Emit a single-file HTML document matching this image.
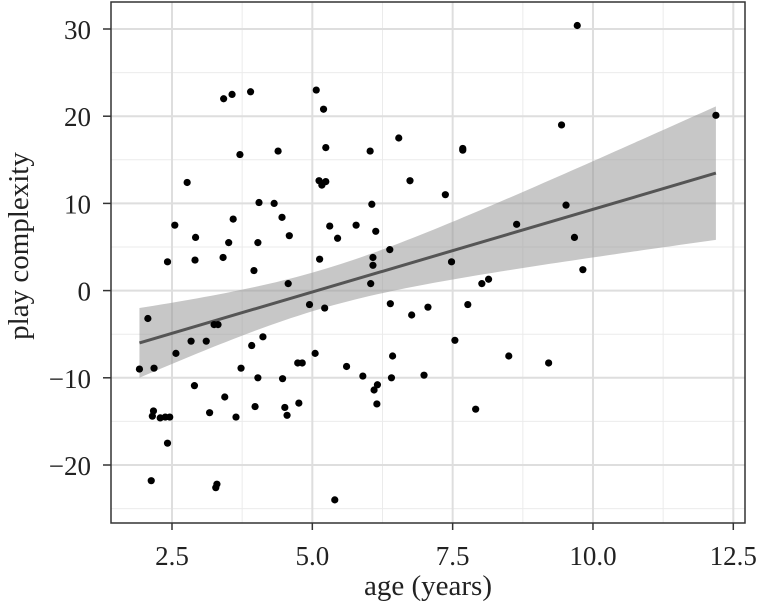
<!DOCTYPE html>
<html><head><meta charset="utf-8"><style>
body{margin:0;background:#fff;}
text{font-family:"Liberation Serif",serif;}
</style></head><body>
<svg id="c" width="758" height="603" xmlns="http://www.w3.org/2000/svg"></svg>
<script>
const ages=[1.92,2.07,2.18,2.13,2.15,2.17,2.29,2.38,2.42,2.42,2.46,2.55,2.57,2.77,2.84,2.90,2.91,2.92,3.11,3.17,3.25,3.28,3.30,3.32,3.42,3.44,3.41,3.51,3.57,3.59,3.64,3.71,3.73,3.90,3.92,3.96,3.98,4.03,4.03,4.05,4.12,4.32,4.39,4.46,4.47,4.51,4.55,4.57,4.59,4.74,4.76,4.82,4.95,5.05,5.07,5.12,5.13,5.17,5.20,5.22,5.24,5.24,5.31,5.45,5.61,5.40,5.78,5.90,6.03,6.04,6.06,6.08,6.08,6.10,6.13,6.15,6.16,6.38,6.39,6.41,6.43,6.54,6.74,6.77,6.99,7.06,7.37,7.48,7.54,7.68,7.68,7.77,7.91,8.02,8.14,8.50,8.64,9.21,9.44,9.52,9.67,9.72,9.82,12.19];
const play=[-9.0,-3.2,-8.9,-21.8,-14.4,-13.8,-14.6,-14.5,3.3,-17.5,-14.5,7.5,-7.2,12.4,-5.8,-10.9,3.5,6.1,-5.8,-14.0,-3.9,-22.6,-22.2,-3.9,22.0,-12.2,3.8,5.5,22.5,8.2,-14.5,15.6,-8.9,22.8,-6.3,2.3,-13.3,5.5,-10.0,10.1,-5.3,10.0,16.0,8.4,-10.1,-13.4,-14.3,0.8,6.3,-8.3,-12.9,-8.3,-1.6,-7.2,23.0,12.6,3.6,12.1,20.8,-2.0,16.4,12.5,7.4,6.0,-8.7,-24.0,7.5,-9.8,16.0,0.8,9.9,3.8,2.9,-11.4,6.8,-13.0,-10.8,4.7,-1.5,-10.0,-7.5,17.5,12.6,-2.8,-9.7,-1.9,11.0,3.3,-5.7,16.3,16.1,-1.6,-13.6,0.8,1.3,-7.5,7.6,-8.3,19.0,9.8,6.1,30.4,2.4,20.1];
const xTicks=[2.5,5.0,7.5,10.0,12.5];
const yTicks=[-20,-10,0,10,20,30];
const NS="http://www.w3.org/2000/svg";
const svg=document.getElementById('c');
const L=111,R=745,T=2,B=523;
const X=v=>172+(v-2.5)*56.13;
const Y=v=>290.6-v*8.72;
function mk(t,a){const e=document.createElementNS(NS,t);for(const k in a)e.setAttribute(k,a[k]);svg.appendChild(e);return e;}
const bg=mk('rect',{x:L,y:T,width:R-L,height:B-T,fill:'#fff'});


for(let v=1.25;v<=13;v+=2.5){if(X(v)>L&&X(v)<R){const g=mk('line',{x1:X(v),x2:X(v),y1:T,y2:B,stroke:'#ebebeb','stroke-width':1});}}
for(let v=-25;v<=35;v+=10){if(Y(v)>T&&Y(v)<B){const g=mk('line',{x1:L,x2:R,y1:Y(v),y2:Y(v),stroke:'#ebebeb','stroke-width':1});}}
xTicks.forEach(v=>{const g=mk('line',{x1:X(v),x2:X(v),y1:T,y2:B,stroke:'#dedede','stroke-width':2});
const tk=mk('line',{x1:X(v),x2:X(v),y1:B,y2:B+7,stroke:'#333','stroke-width':1.5});
const t=mk('text',{x:X(v),y:565,'text-anchor':'middle','font-size':27,fill:'#222'});t.textContent=v.toFixed(1);});
yTicks.forEach(v=>{const g=mk('line',{x1:L,x2:R,y1:Y(v),y2:Y(v),stroke:'#dedede','stroke-width':2});
const tk=mk('line',{x1:L-8,x2:L,y1:Y(v),y2:Y(v),stroke:'#333','stroke-width':1.5});
const t=mk('text',{x:91,y:Y(v)+10,'text-anchor':'end','font-size':27,fill:'#222'});t.textContent=v<0?'\u2212'+(-v):v;});
const n=ages.length;const mx=ages.reduce((a,b)=>a+b)/n,my=play.reduce((a,b)=>a+b)/n;
let sxx=0,sxy=0;for(let i=0;i<n;i++){sxx+=(ages[i]-mx)**2;sxy+=(ages[i]-mx)*(play[i]-my);}
const b1=sxy/sxx,b0=my-b1*mx;let sse=0;for(let i=0;i<n;i++)sse+=(play[i]-b0-b1*ages[i])**2;
const s=Math.sqrt(sse/(n-2));const x0=Math.min(...ages),x1=Math.max(...ages);
let up=[],lo=[];for(let k=0;k<=80;k++){const x=x0+(x1-x0)*k/80;const f=b0+b1*x;const se=s*Math.sqrt(1/n+(x-mx)**2/sxx)*1.984;up.push(X(x)+','+Y(f+se));lo.unshift(X(x)+','+Y(f-se));}
const band=mk('polygon',{points:up.concat(lo).join(' '),fill:'#999','fill-opacity':0.55});

const ln=mk('line',{x1:X(x0),y1:Y(b0+b1*x0),x2:X(x1),y2:Y(b0+b1*x1),stroke:'#555','stroke-width':3});

for(let i=0;i<n;i++){const c=mk('circle',{cx:X(ages[i]),cy:Y(play[i]),r:3.6,fill:'#000'});

}
const br=mk('rect',{x:L,y:T,width:R-L,height:B-T,fill:'none',stroke:'#333','stroke-width':1.5});

const xt=mk('text',{x:428,y:595,'text-anchor':'middle','font-size':29,fill:'#222'});xt.textContent='age (years)';

const yt=mk('text',{x:0,y:0,'text-anchor':'middle','font-size':29,fill:'#222',transform:'translate(28,246) rotate(-90)'});yt.textContent='play complexity';

</script>
</body></html>
